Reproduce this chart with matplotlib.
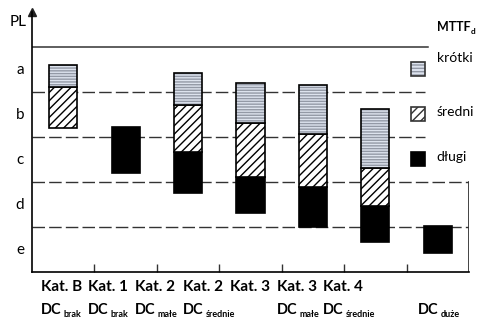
import numpy as np
import matplotlib.pyplot as plt
from matplotlib.patches import Rectangle

plt.rcParams['font.family'] = ['Lato', 'DejaVu Sans']

# ── data ─────────────────────────────────────────────
kat_labels = ["Kat. B", "Kat. 1", "Kat. 2", "Kat. 2", "Kat. 3", "Kat. 3", "Kat. 4"]
dc_subs    = ["brak", "brak", "małe", "średnie", "małe", "średnie", "duże"]
pl_levels  = ["e", "d", "c", "b", "a"]

# segment limits per column (PL scale: e=0..1 ... a=4..5), nan = no segment
dlugi_lo  = [np.nan, 2.20, 1.76, 1.31, 1.00, 0.67, 0.42]
dlugi_hi  = [np.nan, 3.22, 2.67, 2.11, 1.89, 1.47, 1.02]
sredni_lo = [3.20, np.nan, 2.67, 2.11, 1.89, 1.47, np.nan]
sredni_hi = [4.11, np.nan, 3.71, 3.31, 3.07, 2.31, np.nan]
krotki_lo = [4.11, np.nan, 3.71, 3.31, 3.07, 2.31, np.nan]
krotki_hi = [4.60, np.nan, 4.42, 4.20, 4.16, 3.62, np.nan]

# ── figure ───────────────────────────────────────────
fig = plt.figure(figsize=(4.78, 3.27), dpi=100)
ax = fig.add_axes([32/478, 55/327, 437/478, 260/327])
ax.set_xlim(0, 7)
ax.set_ylim(0, 5.78)
for s in ['top', 'right']:
    ax.spines[s].set_visible(False)
ax.spines['left'].set_linewidth(1.2)
ax.spines['bottom'].set_linewidth(1.2)
ax.set_yticks([])
ax.set_xticks(range(1, 7))
ax.set_xticklabels([])
ax.tick_params(axis='x', direction='in', length=6, width=1, colors='#333')
ax.plot([0], [5.78], marker='^', color='#222', ms=6, clip_on=False)
ax.plot([7, 7], [0, 2.0], color='#222', lw=1.2)

# grid lines between PL levels
ax.plot([0, 6.35], [5, 5], color='#333', lw=1.1)
for v, xe in [(4, 6.3), (3, 6.3), (2, 7), (1, 7)]:
    ax.plot([0, xe], [v, v], color='#333', lw=1, dashes=(9, 3))

x = np.arange(7) + 0.5
w = 0.45

def seg(lo, hi, kind):
    lo = np.array(lo); hi = np.array(hi)
    m = ~np.isnan(lo)
    if kind == 'krotki':
        ax.bar(x[m], hi[m] - lo[m], w, bottom=lo[m], color='#dde3ee',
               edgecolor='#9399a6', hatch='------', lw=0, zorder=3)
        ax.bar(x[m], hi[m] - lo[m], w, bottom=lo[m], fill=False,
               edgecolor='black', lw=1.2, zorder=4)
    elif kind == 'sredni':
        ax.bar(x[m], hi[m] - lo[m], w, bottom=lo[m], color='white',
               edgecolor='black', hatch='////', lw=1.2, zorder=3)
    else:
        ax.bar(x[m], hi[m] - lo[m], w, bottom=lo[m], color='black',
               edgecolor='black', lw=1.2, zorder=3)

seg(dlugi_lo, dlugi_hi, 'dlugi')
seg(sredni_lo, sredni_hi, 'sredni')
seg(krotki_lo, krotki_hi, 'krotki')

# PL axis labels
for i, lab in enumerate(pl_levels):
    fig.text(20/478, 1 - (250 - 45*i)/327, lab, fontsize=11, ha='center', va='center')
fig.text(18/478, 1 - 22/327, "PL", fontsize=11, ha='center', va='center')

# category labels below axis
kat_x = [41, 88, 135, 183, 230, 277, 323]
dc_x  = [41, 88, 135, 183, 277, 323, 418]
for xp, lab in zip(kat_x, kat_labels):
    fig.text(xp/478, 1 - 287/327, lab, fontsize=11, fontweight='bold',
             ha='left', va='center')
for xp, sub in zip(dc_x, dc_subs):
    t = fig.text(xp/478, 1 - 310/327, "DC", fontsize=10.5, fontweight='bold',
                 ha='left', va='center')
    ax.annotate(sub, xy=(1, 0), xycoords=t, xytext=(1.5, -1.5),
                textcoords='offset points', fontsize=6.5, fontweight='bold',
                ha='left', va='bottom', annotation_clip=False)

# legend
t = fig.text(437/478, 1 - 27/327, "MTTF", fontsize=9, fontweight='bold',
             ha='left', va='center')
ax.annotate("d", xy=(1, 0), xycoords=t, xytext=(0.3, -1.5),
            textcoords='offset points', fontsize=6, fontweight='bold',
            ha='left', va='bottom', annotation_clip=False)
sq = [(4.36, 'krotki', 'krótki', 4.76), (3.36, 'sredni', 'średni', 3.56),
      (2.36, 'dlugi', 'długi', 2.56)]
for y0, kind, lab, ty in sq:
    if kind == 'krotki':
        ax.add_patch(Rectangle((6.07, y0), 0.225, 0.3, facecolor='#dde3ee',
                               edgecolor='#9399a6', hatch='-----', lw=0))
        ax.add_patch(Rectangle((6.07, y0), 0.225, 0.3, fill=False,
                               edgecolor='#333', lw=1.2))
    elif kind == 'sredni':
        ax.add_patch(Rectangle((6.07, y0), 0.225, 0.3, facecolor='white',
                               edgecolor='#333', hatch='////', lw=1.2))
    else:
        ax.add_patch(Rectangle((6.07, y0), 0.225, 0.3, facecolor='black',
                               edgecolor='black', lw=1.2))
    ax.text(6.48, ty, lab, fontsize=10, ha='left', va='center')

fig.savefig("out.png", dpi=100)
